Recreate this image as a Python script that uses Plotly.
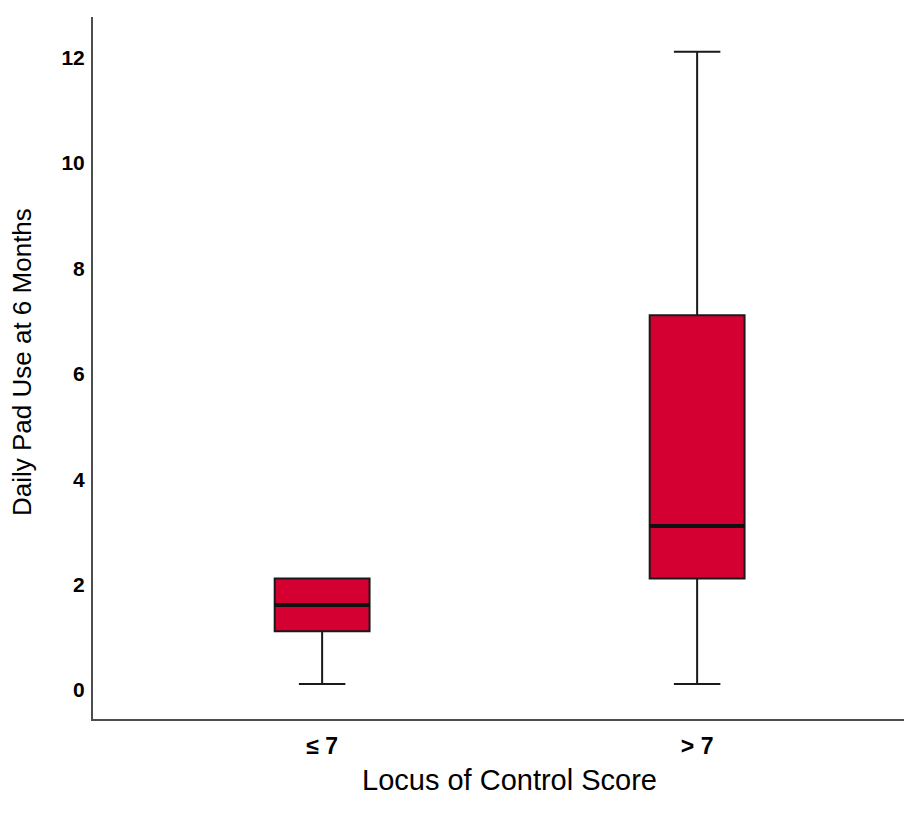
import plotly.graph_objects as go

categories = ["≤ 7", "> 7"]
q1 = [1.0, 2.0]
median = [1.5, 3.0]
q3 = [2.0, 7.0]
lower = [0.0, 0.0]
upper = [2.0, 12.0]
y_ticks = [0, 2, 4, 6, 8, 10, 12]

FILL = "#D50032"
EDGE = "#1a1a1a"
BOX_W = 0.253

fig = go.Figure()
fig.add_trace(go.Box(
    x=categories, q1=q1, median=median, q3=q3,
    lowerfence=lower, upperfence=upper,
    fillcolor=FILL, line=dict(color=EDGE, width=2),
    width=BOX_W, whiskerwidth=0.49, boxpoints=False,
    hoverinfo="skip", showlegend=False,
))

# thicker median lines, taken from the data
for i, m in enumerate(median):
    fig.add_shape(type="line", xref="x", yref="y",
                  x0=i - BOX_W / 2, x1=i + BOX_W / 2, y0=m, y1=m,
                  line=dict(color="#111111", width=4))

# page body has an 8px margin, so the figure starts at (8, 8)
OFF = 8
W, H = 912 - OFF, 817 - OFF
ml, mr, mt, mb = 93 - OFF, 0, 17 - OFF, 98
pw, ph = W - ml - mr, H - mt - mb

fig.update_layout(
    width=W, height=H,
    margin=dict(l=ml, r=mr, t=mt, b=mb, pad=0),
    paper_bgcolor="white", plot_bgcolor="white",
    xaxis=dict(
        type="category", range=[-0.611, 1.573],
        showline=True, linecolor="#4d4d4d", linewidth=2,
        showgrid=False, zeroline=False, ticks="",
        tickfont=dict(family="Liberation Sans", size=23, color="black", weight="bold"),
        ticklabelstandoff=5,
    ),
    yaxis=dict(
        range=[-0.665, 12.66], tickvals=y_ticks,
        showline=True, linecolor="#4d4d4d", linewidth=2,
        showgrid=False, zeroline=False, ticks="",
        tickfont=dict(family="Liberation Sans", size=21, color="black", weight="bold"),
        ticklabelstandoff=2, ticklabelshift=6,
    ),
    annotations=[
        dict(text="Locus of Control Score", xref="paper", yref="paper",
             x=(509 - 93) / pw, y=(719 - 780) / ph,
             xanchor="center", yanchor="middle", showarrow=False,
             font=dict(family="Liberation Sans", size=29, color="black")),
        dict(text="Daily Pad Use at 6 Months", xref="paper", yref="paper",
             x=(22 - 93) / pw, y=(719 - 362) / ph, textangle=-90,
             xanchor="center", yanchor="middle", showarrow=False,
             font=dict(family="Liberation Sans", size=26, color="black")),
    ],
)

fig.write_html("out.html")
